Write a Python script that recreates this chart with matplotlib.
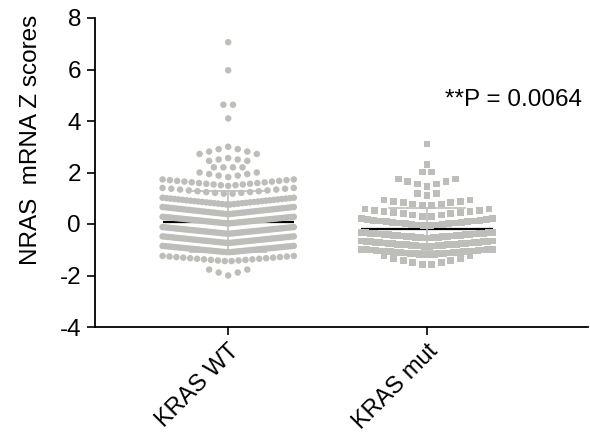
import matplotlib
matplotlib.use("Agg")
import matplotlib.pyplot as plt
import numpy as np

plt.rcParams["font.family"] = ["Liberation Sans", "DejaVu Sans"]
plt.rcParams["axes.unicode_minus"] = False

groups = ["KRAS WT", "KRAS mut"]

# swarm rows: value in the middle, value at the outer end, number of samples
wt_mid = [7.06, 5.97, 4.63, 4.10, 3.00, 2.56, 2.20, 1.82, 1.48, 1.16, 0.75, 0.38, 0.02, -0.38, -0.74, -1.10, -1.45, -2.00]
wt_edge = [7.06, 5.97, 4.63, 4.10, 2.72, 2.45, 2.20, 2.00, 1.73, 1.40, 1.02, 0.66, 0.28, -0.12, -0.48, -0.85, -1.24, -1.77]
wt_count = [1, 1, 2, 1, 7, 5, 4, 7, 19, 16, 34, 44, 50, 50, 48, 44, 20, 5]

mut_mid = [3.11, 2.32, 2.02, 1.45, 1.10, 0.70, 0.28, -0.08, -0.55, -0.88, -1.20, -1.62]
mut_edge = [3.11, 2.32, 2.02, 1.75, 1.20, 0.93, 0.58, 0.20, -0.33, -0.66, -0.98, -1.24]
mut_count = [1, 1, 2, 7, 3, 10, 14, 22, 30, 30, 28, 10]

means = [0.09, -0.21]
sds = [1.19, 0.85]
p_label = "**P = 0.0064"

dot_color = "#bdbdb9"


def swarm_rows(mids, edges, counts, half=0.33, gap=0.048):
    xs, ys = [], []
    for m, e, n in zip(mids, edges, counts):
        step = gap if n < 2 else min(gap, 2 * half / (n - 1))
        off = (np.arange(n) - (n - 1) / 2) * step
        span = np.abs(off).max() if n > 1 else 1.0
        xs.append(off)
        ys.append(m + (e - m) * np.abs(off) / span)
    return np.concatenate(xs), np.concatenate(ys)


fig = plt.figure(figsize=(5.9, 4.38), dpi=100)
ax = fig.add_axes([95 / 590, 1 - 327 / 438, (588 - 95) / 590, (327 - 18) / 438])

# mean lines (under the dots)
for i, m in enumerate(means):
    ax.plot([i - 0.33, i + 0.33], [m, m], color="black", lw=1.6, zorder=1, solid_capstyle="butt")

x0, y0 = swarm_rows(wt_mid, wt_edge, wt_count)
ax.scatter(x0 + 0, y0, s=22, marker="o", color=dot_color, edgecolors="none", zorder=2)
x1, y1 = swarm_rows(mut_mid, mut_edge, mut_count)
ax.scatter(x1 + 1, y1, s=24, marker="s", color=dot_color, edgecolors="none", zorder=2)

# SD bars
for i, (m, sd) in enumerate(zip(means, sds)):
    ax.plot([i, i], [m - sd, m + sd], color=dot_color, lw=1.2, zorder=3)
    for y in (m - sd, m + sd):
        ax.plot([i - 0.19, i + 0.19], [y, y], color=dot_color, lw=1.2, zorder=3)

ax.text(1.093, 4.82, p_label, fontsize=17.5, va="center", ha="left")

ax.set_xlim(-0.67, 1.81)
ax.set_ylim(-4, 8)
ax.set_yticks(np.arange(-4, 9, 2))
ax.set_xticks([0, 1])
ax.set_xticklabels(groups, rotation=45, ha="right", rotation_mode="anchor", fontsize=17)
ax.tick_params(axis="y", labelsize=17.5, length=6, width=1.2, direction="out", pad=4)
ax.tick_params(axis="x", length=6, width=1.2, direction="out")

fig.text(31 / 590, 1 - 140 / 438, "NRAS  mRNA Z scores", rotation=90, fontsize=17.5,
         ha="center", va="center")

ax.spines["top"].set_visible(False)
ax.spines["right"].set_visible(False)
ax.spines["left"].set_linewidth(1.3)
ax.spines["bottom"].set_linewidth(1.3)

fig.savefig("out.png", dpi=100)
